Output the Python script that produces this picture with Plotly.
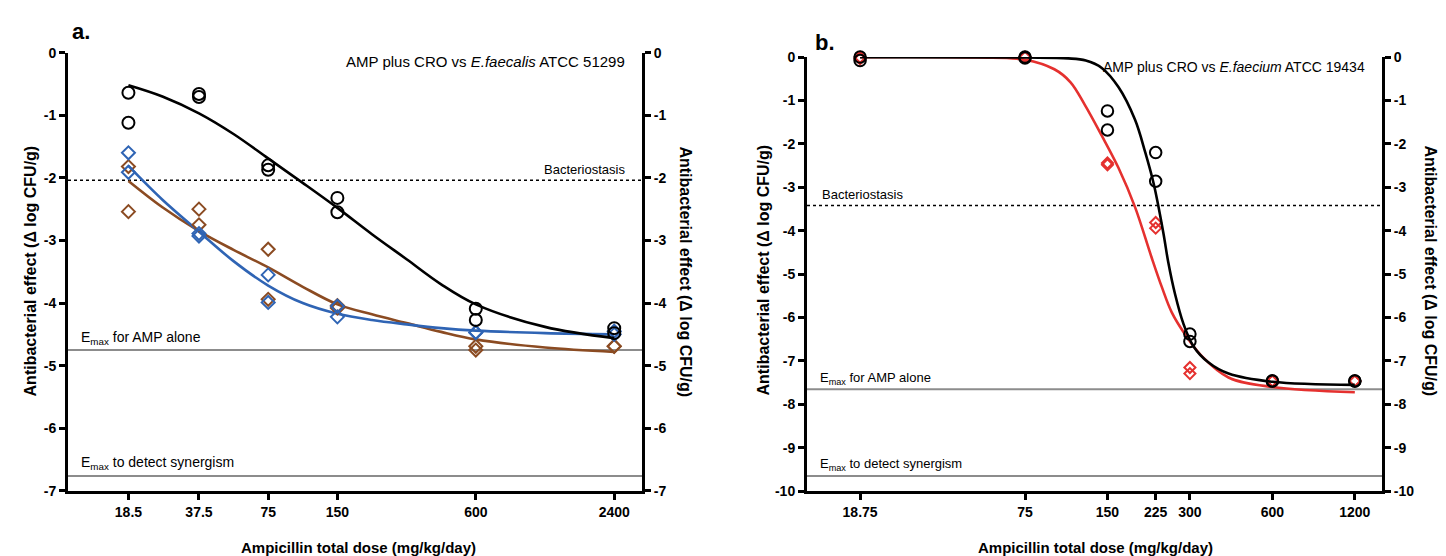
import math
import plotly.graph_objects as go

# ---------------- data ----------------
# Panel a: AMP plus CRO vs E. faecalis ATCC 51299
dose_a = [18.5, 37.5, 75, 150, 600, 2400]
dose_a_labels = ["18.5", "37.5", "75", "150", "600", "2400"]
black_a_rep1 = [-0.64, -0.66, -1.80, -2.32, -4.09, -4.40]
black_a_rep2 = [-1.12, -0.71, -1.87, -2.55, -4.27, -4.48]
blue_a_rep1 = [-1.60, -2.89, -3.55, -4.05, -4.47, -4.45]
blue_a_rep2 = [-1.91, -2.93, -3.99, -4.22, -4.47, -4.50]
brown_a_rep1 = [-1.82, -2.50, -3.14, -4.04, -4.69, -4.69]
brown_a_rep2 = [-2.54, -2.75, -3.94, -4.08, -4.75, -4.69]

fit_dose_a = [18.5, 26, 37.5, 53, 75, 106, 150, 212, 300, 424, 600, 1200, 2400]
black_fit_a = [-0.52, -0.70, -0.97, -1.30, -1.69, -2.08, -2.48, -2.90, -3.30, -3.70, -4.02, -4.38, -4.56]
blue_fit_a = [-1.81, -2.35, -2.86, -3.33, -3.72, -4.00, -4.17, -4.27, -4.34, -4.40, -4.44, -4.48, -4.50]
brown_fit_a = [-2.05, -2.47, -2.85, -3.15, -3.43, -3.74, -4.02, -4.18, -4.32, -4.46, -4.58, -4.71, -4.78]

yticks_a = [0, -1, -2, -3, -4, -5, -6, -7]
bacteriostasis_a = -2.04
emax_alone_a = -4.75
emax_syn_a = -6.76

# Panel b: AMP plus CRO vs E. faecium ATCC 19434
dose_b = [18.75, 75, 150, 225, 300, 600, 1200]
dose_b_labels = ["18.75", "75", "150", "225", "300", "600", "1200"]
black_b_rep1 = [0.0, 0.0, -1.24, -2.20, -6.38, -7.46, -7.46]
black_b_rep2 = [-0.08, -0.02, -1.68, -2.86, -6.55, -7.46, -7.46]
red_b_rep1 = [0.0, 0.0, -2.44, -3.81, -7.15, -7.46, -7.46]
red_b_rep2 = [-0.04, 0.0, -2.48, -3.94, -7.29, -7.46, -7.46]

fit_dose_b_black = [18.75, 75, 108, 125, 143, 164.5, 189, 206, 221.5, 240, 250, 265, 284, 309, 350, 415, 600, 1200]
black_fit_b = [0.0, -0.01, -0.03, -0.08, -0.25, -0.69, -1.44, -2.19, -2.93, -4.05, -4.72, -5.47, -6.14, -6.66, -7.03, -7.29, -7.48, -7.55]
fit_dose_b_red = [18.75, 50, 75, 96, 110, 124, 143, 164.5, 189, 217, 237, 257.5, 289, 333, 415, 600, 1200]
red_fit_b = [0.0, -0.01, -0.06, -0.28, -0.58, -1.10, -1.81, -2.55, -3.45, -4.60, -5.30, -5.88, -6.40, -6.90, -7.38, -7.60, -7.72]

yticks_b = [0, -1, -2, -3, -4, -5, -6, -7, -8, -9, -10]
bacteriostasis_b = -3.42
emax_alone_b = -7.65
emax_syn_b = -9.65

# ---------------- styling ----------------
W, H = 1446, 556
FONT = "Liberation Sans, Arial, Helvetica, sans-serif"
BLACK = "#000000"
BLUE = "#2f64b4"
BROWN = "#8b4b22"
RED = "#e5312f"
GRAY = "#8c8c8c"


def fx(px):
    return px / W


def fy(py):
    return 1 - py / H


fig = go.Figure()


def add_markers(x, y, color, symbol, size, xa, ya):
    fig.add_trace(go.Scatter(
        x=x, y=y, mode="markers", xaxis=xa, yaxis=ya, cliponaxis=False,
        marker=dict(symbol=symbol, size=size, color=color,
                    line=dict(color=color, width=2)),
        showlegend=False, hoverinfo="x+y"))


def add_curve(x, y, color, xa, ya):
    fig.add_trace(go.Scatter(
        x=x, y=y, mode="lines", xaxis=xa, yaxis=ya, cliponaxis=False,
        line=dict(color=color, width=2.6, shape="spline", smoothing=1.0),
        showlegend=False, hoverinfo="skip"))


# Panel a
add_curve(fit_dose_a, brown_fit_a, BROWN, "x", "y")
add_curve(fit_dose_a, blue_fit_a, BLUE, "x", "y")
for rep in (brown_a_rep1, brown_a_rep2):
    add_markers(dose_a, rep, BROWN, "diamond-open", 10, "x", "y")
for rep in (blue_a_rep1, blue_a_rep2):
    add_markers(dose_a, rep, BLUE, "diamond-open", 10, "x", "y")
add_curve(fit_dose_a, black_fit_a, BLACK, "x", "y3")
for rep in (black_a_rep1, black_a_rep2):
    add_markers(dose_a, rep, BLACK, "circle-open", 12, "x", "y3")

# Panel b
add_curve(fit_dose_b_red, red_fit_b, RED, "x2", "y2")
for rep in (red_b_rep1, red_b_rep2):
    add_markers(dose_b, rep, RED, "diamond-open", 8.5, "x2", "y2")
add_curve(fit_dose_b_black, black_fit_b, BLACK, "x2", "y4")
for rep in (black_b_rep1, black_b_rep2):
    add_markers(dose_b, rep, BLACK, "circle-open", 11.5, "x2", "y4")

axis_common = dict(
    showline=True, linecolor="black", linewidth=3, mirror=False,
    ticks="outside", ticklen=6, tickwidth=3, tickcolor="black",
    showgrid=False, zeroline=False,
    tickfont=dict(family=FONT, size=14, color="black"),
)


def bold(labels):
    return ["<b>%s</b>" % s for s in labels]


xa_dom = [fx(60), fx(634)]
xb_dom = [fx(799), fx(1374)]
ya_dom = [fy(489), fy(37.7)]
yb_dom = [fy(489.3), fy(42.3)]

ylab_a = bold([str(v) for v in yticks_a])
ylab_b = bold([str(v) for v in yticks_b])

fig.update_layout(
    width=W, height=H,
    margin=dict(l=0, r=0, t=0, b=0),
    paper_bgcolor="white", plot_bgcolor="white",
    showlegend=False,
    font=dict(family=FONT, color="black"),
    xaxis=dict(axis_common, type="log", domain=xa_dom, anchor="y",
               range=[math.log10(10.1), math.log10(3170)],
               tickvals=dose_a, ticktext=bold(dose_a_labels)),
    yaxis=dict(axis_common, domain=ya_dom, anchor="x", range=[-7, 0],
               tickvals=yticks_a, ticktext=ylab_a),
    yaxis3=dict(axis_common, overlaying="y", side="right", anchor="x",
                range=[-7, 0], tickvals=yticks_a, ticktext=ylab_a),
    xaxis2=dict(axis_common, type="log", domain=xb_dom, anchor="y2",
                range=[math.log10(12.0), math.log10(1508)],
                tickvals=dose_b, ticktext=bold(dose_b_labels)),
    yaxis2=dict(axis_common, domain=yb_dom, anchor="x2", range=[-10, 0],
                tickvals=yticks_b, ticktext=ylab_b),
    yaxis4=dict(axis_common, overlaying="y2", side="right", anchor="x2",
                range=[-10, 0], tickvals=yticks_b, ticktext=ylab_b),
)


# reference lines
def hline(xref, yref, yval, color, width, dash):
    fig.add_shape(type="line", xref=xref, yref=yref, x0=0, x1=1,
                  y0=yval, y1=yval, layer="below",
                  line=dict(color=color, width=width, dash=dash))


hline("x domain", "y", bacteriostasis_a, BLACK, 1.5, "dot")
hline("x domain", "y", emax_alone_a, GRAY, 2, "solid")
hline("x domain", "y", emax_syn_a, GRAY, 2, "solid")
hline("x2 domain", "y2", bacteriostasis_b, BLACK, 1.5, "dot")
hline("x2 domain", "y2", emax_alone_b, GRAY, 2, "solid")
hline("x2 domain", "y2", emax_syn_b, GRAY, 2, "solid")


def note(text, px, py, size, xanchor="center", angle=0, is_bold=False):
    fig.add_annotation(
        text=("<b>%s</b>" % text) if is_bold else text,
        xref="paper", yref="paper", x=fx(px), y=fy(py),
        xanchor=xanchor, yanchor="middle", showarrow=False,
        textangle=angle, font=dict(family=FONT, size=size, color="black"))


ytitle = "Antibacterial effect (\u0394 log CFU/g)"
xtitle = "Ampicillin total dose (mg/kg/day)"

# panel a texts
note("a.", 73, 16, 22, is_bold=True)
note("AMP plus CRO vs <i>E.faecalis</i> ATCC 51299", 619, 47, 15, xanchor="right")
note("Bacteriostasis", 619, 158, 13, xanchor="right")
note("E<sub>max</sub> for AMP alone", 71, 332, 14, xanchor="left")
note("E<sub>max</sub> to detect synergism", 71, 460, 14, xanchor="left")
note(ytitle, 22, 263, 16, angle=-90, is_bold=True)
note(ytitle, 678, 263, 16, angle=90, is_bold=True)
note(xtitle, 350, 547, 15, is_bold=True)

# panel b texts
note("b.", 817, 27, 22, is_bold=True)
note("AMP plus CRO vs <i>E.faecium</i> ATCC 19434", 1359, 53, 14, xanchor="right")
note("Bacteriostasis", 812, 184, 13, xanchor="left")
note("E<sub>max</sub> for AMP alone", 810, 373, 13, xanchor="left")
note("E<sub>max</sub> to detect synergism", 810, 462, 13, xanchor="left")
note(ytitle, 755, 262, 16, angle=-90, is_bold=True)
note(ytitle, 1423, 262, 16, angle=90, is_bold=True)
note(xtitle, 1087, 547, 15, is_bold=True)

fig.write_html("out.html")
